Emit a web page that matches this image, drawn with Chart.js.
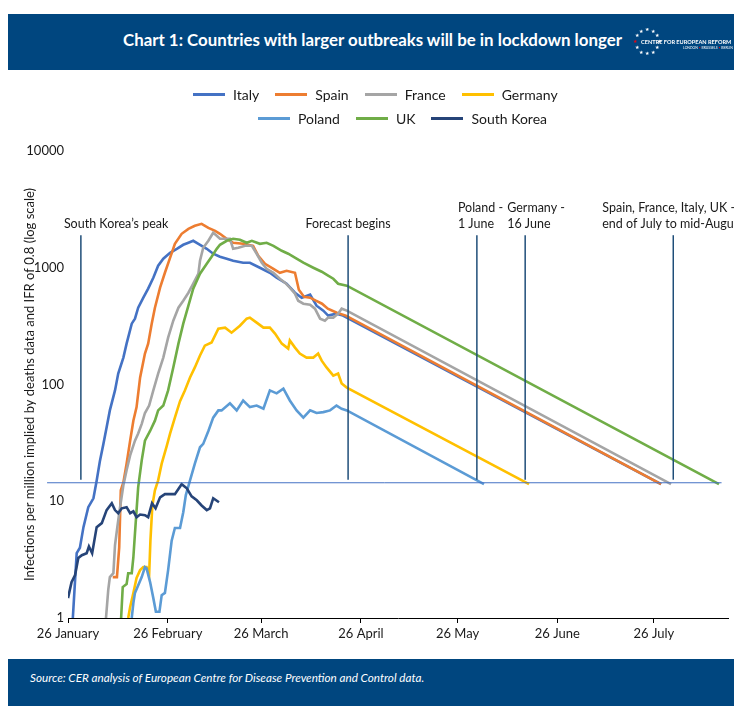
<!DOCTYPE html>
<html>
<head>
<meta charset="utf-8">
<script src="https://cdn.jsdelivr.net/npm/chart.js@4.4.1/dist/chart.umd.min.js"></script>
<style>
html, body { margin: 0; padding: 0; background: #fff; }
body { width: 734px; height: 706px; position: relative; overflow: hidden; font-family: Lato, "Open Sans", sans-serif; color: #1a1a1a; }
#chart { position: absolute; left: 0; top: 0; }
.band { position: absolute; left: 8px; width: 726px; background: #00467f; z-index: 2; }
#head { top: 14px; height: 56px; }
#foot { top: 659px; height: 47px; }
#title { position: absolute; left: 115px; top: 15px; font-weight: 700; font-size: 17px; color: #fff; white-space: nowrap; transform-origin: 0 50%; }
#stars { position: absolute; left: 624px; top: 14px; }
#cer1 { position: absolute; left: 633px; top: 24px; font-size: 5.6px; font-weight: 700; color: #fff; white-space: nowrap; }
#cer2 { position: absolute; left: 675px; top: 32px; font-size: 3.4px; color: #fff; white-space: nowrap; }
#source { position: absolute; left: 22px; top: 11px; font-size: 11.7px; font-style: italic; color: #fff; white-space: nowrap; }
.legrow { position: absolute; height: 18px; display: flex; align-items: center; font-size: 14px; color: #1a1a1a; white-space: nowrap; z-index: 2; }
.item { display: flex; align-items: center; margin-right: 16px; }
.swatch { width: 32px; height: 3px; margin-right: 8px; }
</style>
</head>
<body>
<div id="head" class="band">
  <span id="title">Chart 1: Countries with larger outbreaks will be in lockdown longer</span>
  <canvas id="stars" width="30" height="30"></canvas>
  <span id="cer1">CENTRE FOR EUROPEAN REFORM</span>
  <span id="cer2">LONDON <span style="color:#e30613">&bull;</span> BRUSSELS <span style="color:#e30613">&bull;</span> BERLIN</span>
</div>
<div id="legend1" class="legrow" style="left:193px;top:85px"></div>
<div id="legend2" class="legrow" style="left:258px;top:109px"></div>
<canvas id="chart" width="734" height="706"></canvas>
<div id="foot" class="band">
  <span id="source">Source: CER analysis of European Centre for Disease Prevention and Control data.</span>
</div>

<script>
// days counted from 26 January 2020, values = infections per million
const seriesNames = ['Italy', 'Spain', 'France', 'Germany', 'Poland', 'UK', 'South Korea'];
const seriesColors = ['#4472c4', '#ed7d31', '#a5a5a5', '#ffc000', '#5b9bd5', '#70ad47', '#264478'];

const italy = [[1.5,1],[2.7,3.6],[3.7,4.0],[4.8,6.0],[6.3,8.9],[7.9,10.6],[8.9,15],[9.9,22],[11.0,31],[12.0,43],[13.0,60],[14.6,89],[15.6,124],[17.2,170],[18.2,224],[19.8,332],[20.8,366],[21.8,455],[23.4,554],[24.9,662],[26.5,822],[28.0,1040],[29.6,1195],[31.7,1344],[33.8,1452],[35.8,1573],[37.4,1637],[38.9,1702],[40.5,1604],[43.1,1452],[45.1,1318],[47.2,1241],[49.3,1195],[51.3,1148],[54.4,1104],[56.5,1104],[59.6,1000],[62.7,906],[64.8,822],[67.9,730],[70.5,611],[72.6,554],[75.2,588],[77.2,473],[79.3,429],[80.8,389],[83.4,404],[85.4,389]];
const spain = [[13.9,2.24],[15.2,2.24],[15.9,4.0],[16.4,12.4],[17.2,14.5],[18.2,21],[19.3,33],[20.3,49],[21.3,64],[22.4,115],[23.9,184],[24.9,224],[26.0,332],[27.0,455],[28.6,675],[30.1,906],[31.7,1216],[33.2,1604],[35.3,1953],[37.4,2154],[39.4,2287],[41.5,2378],[43.6,2198],[45.7,2070],[47.2,1953],[49.3,1770],[51.3,1637],[54.4,1604],[57.5,1542],[59.1,1267],[61.2,1082],[63.8,980],[65.8,906],[67.9,942],[70.5,906],[71.7,649],[73.3,565],[75.2,554],[77.0,522],[78.9,492],[80.7,446],[83.5,412],[86.3,389]];
const france = [[11.8,1],[12.5,1.74],[13.0,2.24],[14.1,2.42],[14.6,4.2],[15.2,5.65],[15.9,7.9],[17.2,13.7],[18.2,18.4],[19.3,24.7],[20.8,33],[21.8,38],[22.9,46],[23.9,57],[25.2,66],[26.5,89],[28.0,124],[29.6,170],[31.1,252],[32.7,352],[34.3,455],[35.8,522],[37.4,611],[38.9,730],[40.5,889],[41.0,1148],[42.0,1483],[43.6,1702],[45.1,1991],[46.2,1879],[47.2,1770],[48.8,1770],[50.3,1770],[51.3,1452],[52.9,1483],[55.0,1542],[57.1,1542],[58.6,1318],[60.2,1104],[61.7,980],[63.8,906],[65.8,805],[67.4,745],[68.9,675],[70.5,600],[71.5,522],[73.1,492],[75.2,483],[76.7,446],[78.3,366],[79.8,352],[80.8,374],[82.4,374],[83.9,404],[85.0,446],[86.6,429]];
const germany = [[18.7,1],[19.3,1.24],[20.3,1.64],[21.3,2.2],[22.4,2.57],[23.4,2.73],[24.4,2.73],[25.2,2.33],[25.6,4.6],[26.2,9.2],[27.0,12.4],[28.0,15.1],[29.1,21],[30.7,30],[31.7,38],[33.2,52],[34.8,72],[36.3,89],[37.9,115],[39.4,140],[41.0,177],[42.5,215],[44.6,229],[46.7,301],[48.8,307],[50.8,278],[53.4,319],[55.5,366],[56.5,374],[58.6,339],[60.7,307],[62.7,307],[64.3,273],[66.4,224],[68.4,203],[68.9,238],[70.5,207],[72.0,184],[74.1,170],[76.2,170],[77.7,184],[78.8,160],[80.3,140],[82.4,119],[83.9,124],[85.0,102],[86.6,94]];
const poland = [[19.8,1],[20.3,1.34],[20.8,1.64],[22.9,2.24],[23.9,2.73],[24.4,2.67],[25.5,2.03],[26.5,1.48],[27.3,1.13],[28.4,1.13],[29.1,1.57],[30.1,1.64],[31.1,2.57],[32.2,4.6],[33.2,5.9],[34.8,5.9],[35.8,8.05],[36.6,11.3],[37.9,15.1],[39.4,21],[41.0,29],[42.0,31],[43.6,40],[45.1,52],[46.7,60],[47.7,60],[50.3,69],[52.4,60],[54.4,73],[56.5,64],[58.6,66],[60.7,62],[62.7,89],[64.8,84],[66.9,92],[68.9,73],[71.0,60],[73.1,52],[75.2,60],[77.2,57],[79.3,58],[81.4,60],[83.4,66],[85.0,62],[86.6,60]];
const uk = [[16.5,1],[17.0,1.84],[18.2,1.95],[18.7,2.42],[19.8,2.42],[20.3,3.3],[20.8,5.3],[21.3,8.4],[21.8,13.2],[22.9,22.4],[23.9,33],[25.5,40],[27.0,49],[28.0,60],[29.6,66],[31.1,89],[32.7,140],[34.3,224],[35.8,332],[37.4,473],[38.9,662],[41.0,889],[43.1,1082],[44.6,1241],[46.2,1452],[47.2,1573],[49.3,1702],[51.3,1770],[53.4,1735],[55.5,1637],[57.1,1702],[59.6,1604],[61.7,1637],[63.8,1542],[66.4,1397],[68.4,1318],[71.0,1195],[73.1,1104],[76.2,1000],[78.8,924],[80.8,855],[82.4,805],[83.9,730],[86.6,702]];
const southKorea = [[0,1.48],[1.1,2.03],[2.2,2.33],[3.2,3.26],[4.3,3.45],[5.8,3.59],[6.5,4.1],[7.5,3.59],[8.9,6.0],[10.5,6.5],[12.0,8.4],[13.6,9.6],[14.6,8.4],[15.6,7.9],[16.7,8.7],[18.2,8.9],[19.3,7.9],[20.3,8.2],[21.3,7.3],[22.4,7.7],[23.9,7.6],[24.9,7.3],[26.1,9.6],[27.2,8.7],[28.6,10.8],[30.1,11.5],[31.7,11.5],[33.2,11.5],[35.3,14],[36.9,12.9],[38.4,11.0],[40.0,10.2],[41.5,9.2],[43.1,8.4],[44.1,8.7],[45.1,10.6],[46.9,9.8]];

// forecast: each European series falls to the end value on these days
const forecastEndDay = [184.2, 184.2, 187.3, 143.2, 129.2, 202.2];
const forecastEndValue = 14;

// reference lines
const markerDays = [4, 87, 127, 142, 188];
const markerRange = [15.3, 1900];
const markerLabels = [['South Korea\u2019s peak'], ['Forecast begins'], ['Poland -', '1 June'], ['Germany -', '16 June'], ['Spain, France, Italy, UK -', 'end of July to mid-August']];
const thresholdValue = 14.4;
const thresholdDays = [-6.5, 203];

const tickDays = [0, 31, 60, 91, 121, 152, 182];
const tickLabels = ['26 January', '26 February', '26 March', '26 April', '26 May', '26 June', '26 July'];
const yTicks = [1, 10, 100, 1000, 10000];

const allSeries = [italy, spain, france, germany, poland, uk, southKorea];

// legend in two rows like the original
seriesNames.forEach((name, i) => {
    const row = document.getElementById(i < 4 ? 'legend1' : 'legend2');
    const item = document.createElement('span');
    item.className = 'item';
    item.innerHTML = '<span class="swatch" style="background:' + seriesColors[i] + '"></span>' + name;
    row.appendChild(item);
});

// squeeze the title to the original width
const title = document.getElementById('title');
title.style.transform = 'scaleX(' + (499 / title.getBoundingClientRect().width) + ')';

// ring of stars in the logo
const sc = document.getElementById('stars').getContext('2d');
sc.font = '5px sans-serif';
sc.textAlign = 'center';
sc.textBaseline = 'middle';
for (let k = 0; k < 12; k++) {
    const a = k * Math.PI / 6;
    sc.fillStyle = k === 6 ? '#e30613' : '#fff';
    sc.fillText('\u2605', 15 + 12 * Math.cos(a), 14 + 12 * Math.sin(a));
}

const datasets = seriesNames.map((name, i) => {
    const pts = allSeries[i].map(p => ({ x: p[0], y: p[1] }));
    if (i < forecastEndDay.length) {
        pts.push({ x: forecastEndDay[i], y: forecastEndValue });
    }
    return {
        label: name,
        data: pts,
        borderColor: seriesColors[i],
        backgroundColor: seriesColors[i],
        borderWidth: 2.6,
        pointRadius: 0,
        tension: 0,
        fill: false,
        order: 20 - i
    };
});

markerDays.forEach(d => {
    datasets.push({
        label: 'marker',
        data: [{ x: d, y: markerRange[0] }, { x: d, y: markerRange[1] }],
        borderColor: '#1f4e79',
        borderWidth: 1.5,
        pointRadius: 0,
        order: 0
    });
});

datasets.push({
    label: 'threshold',
    data: [{ x: thresholdDays[0], y: thresholdValue }, { x: thresholdDays[1], y: thresholdValue }],
    borderColor: '#4472c4',
    borderWidth: 1,
    pointRadius: 0,
    clip: false,
    order: 1
});

// text boxes above the reference lines
const labelShift = [-17, 0, -19, -18, -71];
const markerText = {
    id: 'markerText',
    afterDraw(chart) {
        const ctx = chart.ctx;
        const xs = chart.scales.x;
        const top = chart.scales.y.getPixelForValue(markerRange[1]);
        ctx.save();
        ctx.font = '12.5px Lato';
        ctx.fillStyle = '#1a1a1a';
        ctx.textBaseline = 'middle';
        markerLabels.forEach((lines, i) => {
            const px = xs.getPixelForValue(markerDays[i]) + labelShift[i];
            ctx.textAlign = labelShift[i] === 0 ? 'center' : 'left';
            lines.forEach((t, j) => {
                const py = top - 11 - (lines.length - 1 - j) * 16;
                ctx.fillText(t, px, py);
            });
        });
        ctx.restore();
    }
};

new Chart(document.getElementById('chart').getContext('2d'), {
    type: 'line',
    data: { datasets: datasets },
    options: {
        responsive: false,
        animation: false,
        layout: { padding: { left: 0, right: 6, top: 151, bottom: 48 } },
        plugins: {
            legend: { display: false },
            tooltip: { enabled: false }
        },
        scales: {
            x: {
                type: 'linear',
                min: 0,
                max: 205,
                afterBuildTicks: s => { s.ticks = tickDays.map(v => ({ value: v })); },
                afterFit: s => { s.height = 40; },
                ticks: {
                    callback: (v, i) => tickLabels[i],
                    autoSkip: false,
                    maxRotation: 0,
                    padding: 3,
                    color: '#1a1a1a',
                    font: { family: 'Lato', size: 13 }
                },
                grid: { drawOnChartArea: false, drawTicks: true, tickLength: 5, color: '#000' },
                border: { display: true, color: '#000', width: 1 }
            },
            y: {
                type: 'logarithmic',
                min: 1,
                max: 10000,
                afterBuildTicks: s => { s.ticks = yTicks.map(v => ({ value: v })); },
                afterFit: s => { s.width = 68; },
                ticks: {
                    callback: v => String(v),
                    padding: 4,
                    color: '#1a1a1a',
                    font: { family: 'Lato', size: 13 }
                },
                grid: { display: false, drawTicks: false },
                border: { display: false },
                title: {
                    display: true,
                    text: 'Infections per million implied by deaths data and IFR of 0.8 (log scale)',
                    color: '#1a1a1a',
                    font: { family: 'Lato', size: 13 },
                    padding: { top: 22, bottom: 0 }
                }
            }
        }
    },
    plugins: [markerText]
});
</script>
</body>
</html>
